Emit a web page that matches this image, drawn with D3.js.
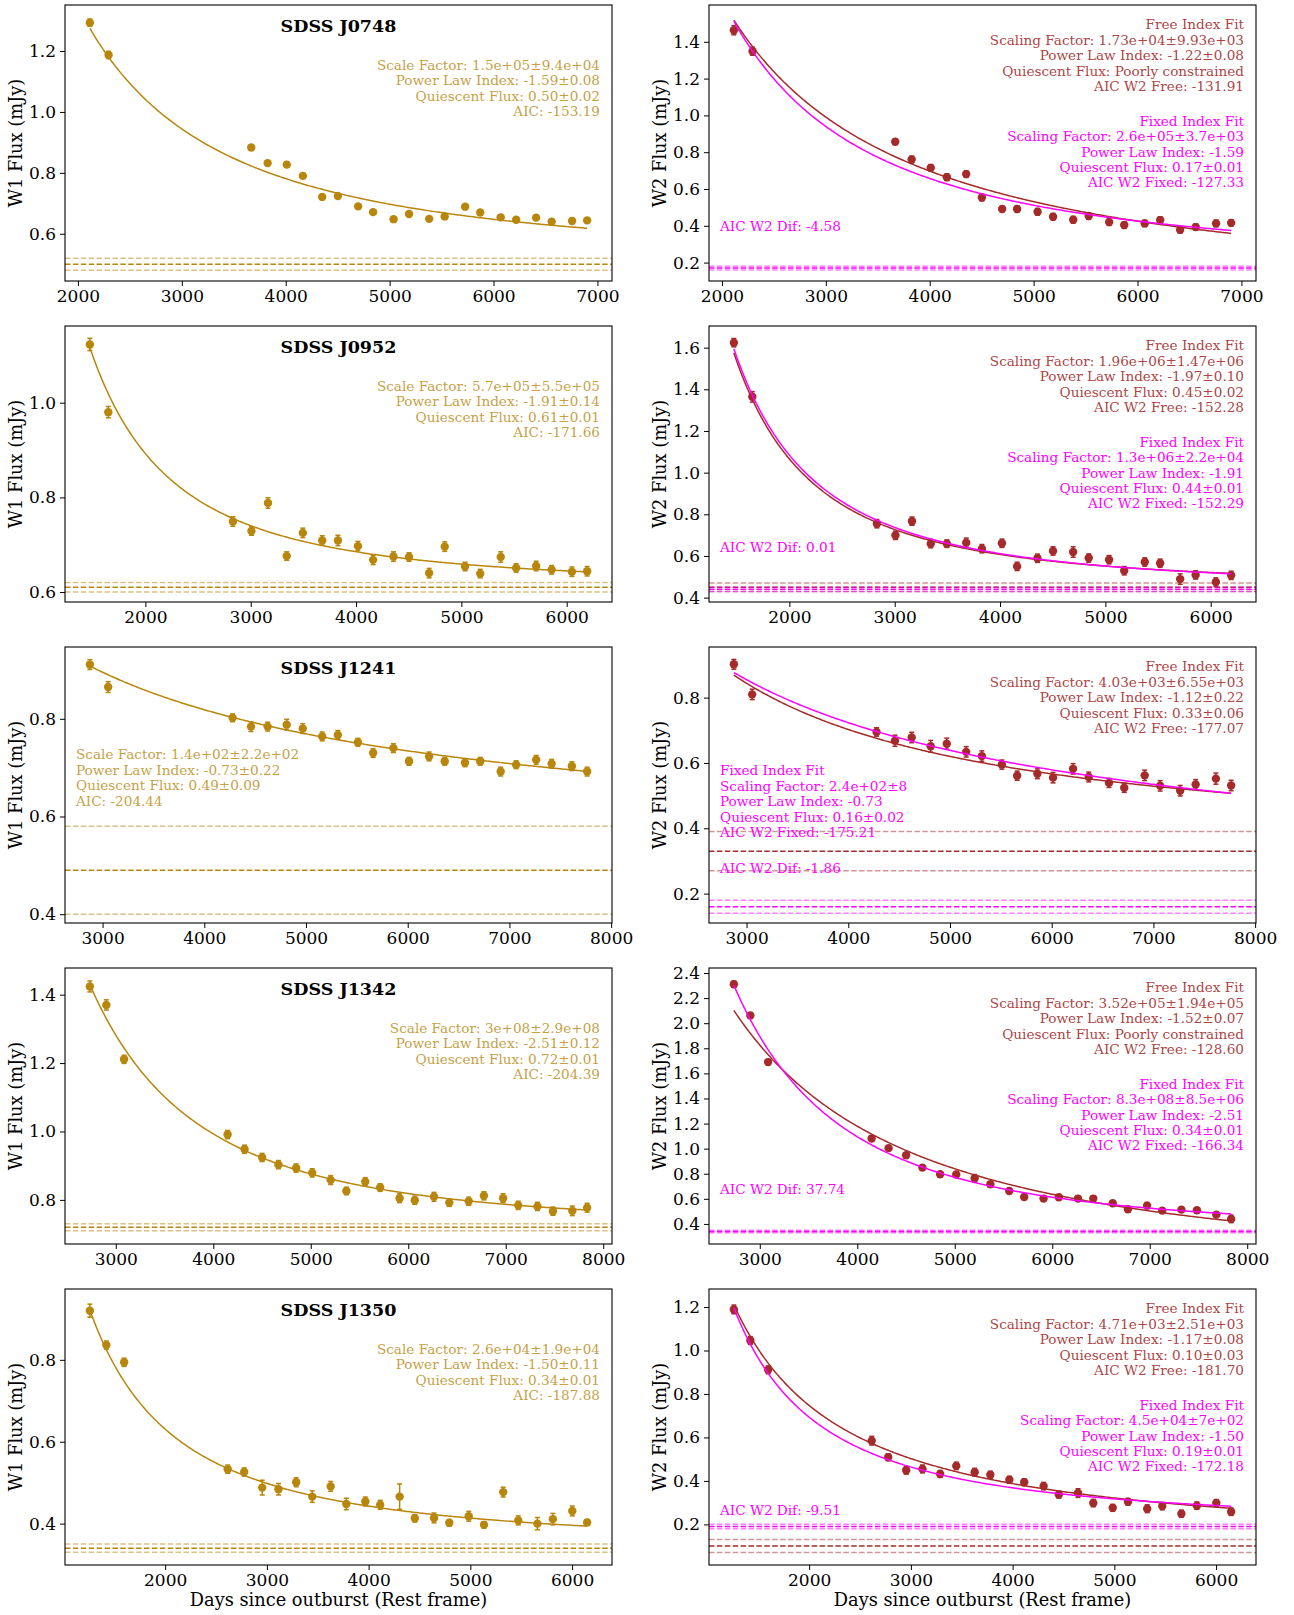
<!DOCTYPE html>
<html>
<head>
<meta charset="utf-8">
<script src="https://cdn.jsdelivr.net/npm/d3@7"></script>
<style>
  body { margin: 0; background: #fff; }
  svg { display: block; }
  text { font-family: "DejaVu Serif", serif; }
</style>
</head>
<body>
<svg id="fig" width="1294" height="1615"></svg>
<script>
// ---------------- data ----------------
const objects = ["SDSS J0748", "SDSS J0952", "SDSS J1241", "SDSS J1342", "SDSS J1350"];

// rest-frame days since outburst and W1 / W2 fluxes (mJy)
const daysJ0748 = [2115, 2295, 3668, 3826, 4010, 4165, 4351, 4502, 4697, 4841, 5038, 5187, 5381, 5530, 5727, 5872, 6069, 6218, 6410, 6560, 6756, 6901];
const w1J0748 = [1.293, 1.187, 0.883, 0.832, 0.827, 0.790, 0.721, 0.724, 0.690, 0.671, 0.648, 0.665, 0.649, 0.657, 0.689, 0.670, 0.654, 0.646, 0.653, 0.640, 0.642, 0.644];
const w1ErrJ0748 = [0.012, 0.012, 0.006, 0.008, 0.008, 0.008, 0.007, 0.007, 0.006, 0.007, 0.007, 0.007, 0.007, 0.008, 0.007, 0.007, 0.007, 0.007, 0.007, 0.007, 0.008, 0.007];
const w2J0748 = [1.463, 1.349, 0.857, 0.760, 0.715, 0.664, 0.681, 0.554, 0.491, 0.491, 0.476, 0.449, 0.433, 0.453, 0.420, 0.404, 0.413, 0.431, 0.378, 0.393, 0.413, 0.416];
const w2ErrJ0748 = [0.025, 0.022, 0.015, 0.018, 0.018, 0.018, 0.018, 0.018, 0.015, 0.018, 0.018, 0.018, 0.018, 0.018, 0.018, 0.018, 0.017, 0.018, 0.018, 0.017, 0.018, 0.017];

const daysJ0952 = [1473, 1648, 2831, 3007, 3164, 3342, 3495, 3679, 3828, 4018, 4162, 4355, 4503, 4694, 4842, 5035, 5179, 5374, 5520, 5710, 5857, 6049, 6194];
const w1J0952 = [1.123, 0.980, 0.749, 0.729, 0.788, 0.676, 0.725, 0.709, 0.709, 0.697, 0.668, 0.675, 0.674, 0.640, 0.696, 0.654, 0.639, 0.674, 0.651, 0.655, 0.647, 0.643, 0.644];
const w1ErrJ0952 = [0.013, 0.012, 0.010, 0.009, 0.011, 0.009, 0.010, 0.010, 0.011, 0.010, 0.010, 0.010, 0.009, 0.010, 0.010, 0.009, 0.009, 0.011, 0.009, 0.010, 0.009, 0.010, 0.010];
const w2J0952 = [1.624, 1.364, 0.755, 0.699, 0.767, 0.659, 0.659, 0.664, 0.635, 0.661, 0.550, 0.589, 0.624, 0.619, 0.590, 0.582, 0.529, 0.571, 0.565, 0.489, 0.509, 0.475, 0.507];
const w2ErrJ0952 = [0.020, 0.025, 0.020, 0.020, 0.020, 0.020, 0.018, 0.022, 0.020, 0.020, 0.020, 0.020, 0.020, 0.025, 0.020, 0.020, 0.020, 0.020, 0.020, 0.025, 0.020, 0.020, 0.020];

const daysJ1241 = [2875, 3055, 4278, 4459, 4623, 4810, 4968, 5159, 5313, 5510, 5660, 5859, 6013, 6210, 6364, 6563, 6713, 6914, 7066, 7263, 7415, 7614, 7764];
const w1J1241 = [0.911, 0.865, 0.802, 0.784, 0.784, 0.788, 0.780, 0.764, 0.767, 0.752, 0.730, 0.740, 0.713, 0.723, 0.713, 0.710, 0.713, 0.692, 0.706, 0.716, 0.708, 0.703, 0.692];
const w1ErrJ1241 = [0.010, 0.011, 0.008, 0.010, 0.009, 0.011, 0.010, 0.009, 0.009, 0.008, 0.009, 0.009, 0.008, 0.009, 0.008, 0.008, 0.008, 0.009, 0.008, 0.009, 0.009, 0.009, 0.009];
const w2J1241 = [0.902, 0.810, 0.695, 0.668, 0.678, 0.651, 0.659, 0.634, 0.621, 0.595, 0.561, 0.567, 0.555, 0.582, 0.557, 0.539, 0.524, 0.562, 0.530, 0.515, 0.534, 0.552, 0.531];
const w2ErrJ1241 = [0.015, 0.016, 0.013, 0.017, 0.016, 0.018, 0.017, 0.016, 0.016, 0.014, 0.014, 0.015, 0.016, 0.016, 0.015, 0.014, 0.014, 0.016, 0.016, 0.016, 0.015, 0.017, 0.016];

const daysJ1342 = [2734, 2903, 3085, 4147, 4321, 4501, 4668, 4850, 5015, 5204, 5365, 5559, 5712, 5911, 6067, 6264, 6421, 6620, 6776, 6973, 7128, 7325, 7484, 7683, 7835];
const w1J1342 = [1.424, 1.370, 1.211, 0.991, 0.948, 0.924, 0.903, 0.893, 0.879, 0.858, 0.826, 0.853, 0.836, 0.805, 0.799, 0.809, 0.792, 0.796, 0.812, 0.805, 0.784, 0.781, 0.767, 0.768, 0.777];
const w1ErrJ1342 = [0.016, 0.015, 0.012, 0.012, 0.012, 0.012, 0.012, 0.012, 0.012, 0.013, 0.011, 0.012, 0.011, 0.013, 0.012, 0.013, 0.011, 0.012, 0.012, 0.013, 0.012, 0.012, 0.012, 0.014, 0.013];
const w2J1342 = [2.310, 2.062, 1.690, 1.081, 1.004, 0.948, 0.849, 0.796, 0.794, 0.764, 0.717, 0.663, 0.615, 0.602, 0.613, 0.602, 0.602, 0.565, 0.517, 0.546, 0.506, 0.514, 0.509, 0.474, 0.440];
const w2ErrJ1342 = [0.025, 0.020, 0.020, 0.020, 0.020, 0.020, 0.020, 0.020, 0.020, 0.030, 0.020, 0.020, 0.020, 0.020, 0.020, 0.020, 0.020, 0.020, 0.020, 0.025, 0.020, 0.020, 0.020, 0.020, 0.030];

const daysJ1350 = [1260, 1422, 1597, 2615, 2777, 2954, 3114, 3288, 3446, 3627, 3781, 3968, 4114, 4305, 4454, 4643, 4793, 4984, 5134, 5323, 5471, 5659, 5811, 6002, 6148];
const w1J1350 = [0.920, 0.836, 0.794, 0.533, 0.526, 0.488, 0.484, 0.501, 0.466, 0.491, 0.448, 0.454, 0.446, 0.466, 0.413, 0.414, 0.402, 0.418, 0.397, 0.477, 0.408, 0.400, 0.411, 0.431, 0.403];
const w1ErrJ1350 = [0.016, 0.010, 0.010, 0.010, 0.010, 0.018, 0.014, 0.011, 0.014, 0.012, 0.014, 0.011, 0.011, 0.031, 0.009, 0.012, 0.008, 0.012, 0.008, 0.012, 0.011, 0.015, 0.014, 0.012, 0.007];
const w2J1350 = [1.189, 1.046, 0.911, 0.585, 0.509, 0.449, 0.455, 0.432, 0.469, 0.440, 0.428, 0.405, 0.394, 0.376, 0.337, 0.344, 0.298, 0.276, 0.304, 0.272, 0.284, 0.249, 0.286, 0.298, 0.258];
const w2ErrJ1350 = [0.020, 0.018, 0.018, 0.020, 0.016, 0.018, 0.018, 0.016, 0.017, 0.018, 0.016, 0.016, 0.016, 0.017, 0.016, 0.020, 0.017, 0.016, 0.015, 0.018, 0.017, 0.016, 0.017, 0.016, 0.017];

// W1 power-law fits: flux = scale * t^index + quiescent
const w1Scale = [1.5e5, 5.7e5, 1.4e2, 3e8, 2.6e4];
const w1ScaleErr = [9.4e4, 5.5e5, 2.2e2, 2.9e8, 1.9e4];
const w1Index = [-1.59, -1.91, -0.73, -2.51, -1.50];
const w1IndexErr = [0.08, 0.14, 0.22, 0.12, 0.11];
const w1Quiescent = [0.50, 0.61, 0.49, 0.72, 0.34];
const w1QuiescentErr = [0.02, 0.01, 0.09, 0.01, 0.01];
const w1Aic = [-153.19, -171.66, -204.44, -204.39, -187.88];

// W2 free-index fits (null error = quiescent flux poorly constrained)
const w2FreeScale = [1.73e4, 1.96e6, 4.03e3, 3.52e5, 4.71e3];
const w2FreeScaleErr = [9.93e3, 1.47e6, 6.55e3, 1.94e5, 2.51e3];
const w2FreeIndex = [-1.22, -1.97, -1.12, -1.52, -1.17];
const w2FreeIndexErr = [0.08, 0.10, 0.22, 0.07, 0.08];
const w2FreeQuiescent = [0.0, 0.45, 0.33, 0.0, 0.10];
const w2FreeQuiescentErr = [null, 0.02, 0.06, null, 0.03];
const w2FreeAic = [-131.91, -152.28, -177.07, -128.60, -181.70];

// W2 fits with the index fixed to the W1 value
const w2FixedScale = [2.6e5, 1.3e6, 2.4e2, 8.3e8, 4.5e4];
const w2FixedScaleErr = [3.7e3, 2.2e4, 8, 8.5e6, 7e2];
const w2FixedQuiescent = [0.17, 0.44, 0.16, 0.34, 0.19];
const w2FixedQuiescentErr = [0.01, 0.01, 0.02, 0.01, 0.01];
const w2FixedAic = [-127.33, -152.29, -175.21, -166.34, -172.18];
const w2AicDif = [-4.58, 0.01, -1.86, 37.74, -9.51];

// axis limits and tick values
const w1YLim = [[0.445, 1.351], [0.579, 1.162], [0.382, 0.947], [0.671, 1.478], [0.299, 0.973]];
const w2YLim = [[0.10, 1.60], [0.379, 1.704], [0.110, 0.955], [0.24, 2.44], [0.013, 1.283]];
const w1YTicks = [[0.6, 0.8, 1.0, 1.2], [0.6, 0.8, 1.0], [0.4, 0.6, 0.8], [0.8, 1.0, 1.2, 1.4], [0.4, 0.6, 0.8]];
const w2YTicks = [[0.2, 0.4, 0.6, 0.8, 1.0, 1.2, 1.4], [0.4, 0.6, 0.8, 1.0, 1.2, 1.4, 1.6], [0.2, 0.4, 0.6, 0.8],
                  [0.4, 0.6, 0.8, 1.0, 1.2, 1.4, 1.6, 1.8, 2.0, 2.2, 2.4], [0.2, 0.4, 0.6, 0.8, 1.0, 1.2]];
const xTicks = [[2000, 3000, 4000, 5000, 6000, 7000], [2000, 3000, 4000, 5000, 6000],
                [3000, 4000, 5000, 6000, 7000, 8000], [3000, 4000, 5000, 6000, 7000, 8000], [2000, 3000, 4000, 5000, 6000]];

const days = [daysJ0748, daysJ0952, daysJ1241, daysJ1342, daysJ1350];
const w1 = [w1J0748, w1J0952, w1J1241, w1J1342, w1J1350];
const w1Err = [w1ErrJ0748, w1ErrJ0952, w1ErrJ1241, w1ErrJ1342, w1ErrJ1350];
const w2 = [w2J0748, w2J0952, w2J1241, w2J1342, w2J1350];
const w2Err = [w2ErrJ0748, w2ErrJ0952, w2ErrJ1241, w2ErrJ1342, w2ErrJ1350];

// ---------------- styling / layout ----------------
const W1C = "#b8860b", FREEC = "#a52a2a", FIXC = "#ff00ff";
const colX = [65, 709], axW = 547, axH = 276, rowY0 = 5, rowStep = 321;
const fontTick = 17, fontAnn = 13.6, fontLabel = 17.8, lineH = 15.4, inset = 12;
// panels whose annotation block sits on the left
const leftAnnotated = { w1: [2], w2Fixed: [2] };

// python-like number formatting
function fmtG(x, p) {
  if (x === 0) return "0";
  const r = Number(x.toPrecision(p));
  const e = Math.floor(Math.log10(Math.abs(r)));
  if (e < -4 || e >= p) {
    let [m, ex] = r.toExponential(p - 1).split("e");
    if (m.includes(".")) m = m.replace(/0+$/, "").replace(/\.$/, "");
    return m + "e" + ex[0] + ex.slice(1).padStart(2, "0");
  }
  let s = r.toFixed(Math.max(0, p - 1 - e));
  if (s.includes(".")) s = s.replace(/0+$/, "").replace(/\.$/, "");
  return s;
}
function fmtE(x, p) {
  const [m, ex] = x.toExponential(p).split("e");
  return m + "e" + ex[0] + ex.slice(1).padStart(2, "0");
}
const f2 = v => v.toFixed(2);

const svg = d3.select("#fig");
const defs = svg.append("defs");

function powerLaw(scale, index, q) { return t => scale * Math.pow(t, index) + q; }

function drawPanel(i, col) {
  const isW1 = col === 0;
  const gx = colX[col], gy = rowY0 + i * rowStep;
  const g = svg.append("g").attr("transform", `translate(${gx},${gy})`);
  const t = days[i];
  const xPad = (d3.max(t) - d3.min(t)) * 0.05;
  const x = d3.scaleLinear().domain([d3.min(t) - xPad, d3.max(t) + xPad]).range([0, axW]);
  const y = d3.scaleLinear().domain(isW1 ? w1YLim[i] : w2YLim[i]).range([axH, 0]);

  const clipId = `clip-${i}-${col}`;
  defs.append("clipPath").attr("id", clipId).append("rect").attr("width", axW).attr("height", axH);
  const plot = g.append("g").attr("clip-path", `url(#${clipId})`);

  // data points with error bars
  const vals = isW1 ? w1[i] : w2[i];
  const errs = isW1 ? w1Err[i] : w2Err[i];
  const pc = isW1 ? W1C : FREEC;
  const pts = t.map((d, k) => ({ t: d, v: vals[k], e: errs[k] }));
  const eb = plot.append("g").attr("stroke", pc).attr("stroke-width", 1.5);
  pts.forEach(p => {
    const y0 = y(p.v - p.e), y1 = y(p.v + p.e), cx = x(p.t);
    eb.append("line").attr("x1", cx).attr("x2", cx).attr("y1", y0).attr("y2", y1);
    eb.append("line").attr("x1", cx - 2.5).attr("x2", cx + 2.5).attr("y1", y0).attr("y2", y0);
    eb.append("line").attr("x1", cx - 2.5).attr("x2", cx + 2.5).attr("y1", y1).attr("y2", y1);
  });
  plot.append("g").selectAll("circle").data(pts).join("circle")
    .attr("cx", p => x(p.t)).attr("cy", p => y(p.v)).attr("r", 4.2).attr("fill", pc);

  // fitted curves
  const ts = d3.range(301).map(k => d3.min(t) + (d3.max(t) - d3.min(t)) * k / 300);
  const line = f => d3.line().x(d => x(d)).y(d => y(f(d)))(ts);
  const curves = isW1
    ? [[powerLaw(w1Scale[i], w1Index[i], w1Quiescent[i]), W1C]]
    : [[powerLaw(w2FreeScale[i], w2FreeIndex[i], w2FreeQuiescent[i]), FREEC],
       [powerLaw(w2FixedScale[i], w1Index[i], w2FixedQuiescent[i]), FIXC]];
  curves.forEach(([f, c]) => plot.append("path").attr("d", line(f))
    .attr("fill", "none").attr("stroke", c).attr("stroke-width", 1.5));

  // quiescent flux levels (dashed), with +/- error levels
  const hline = (v, c, op) => plot.append("line")
    .attr("x1", 0).attr("x2", axW).attr("y1", y(v)).attr("y2", y(v))
    .attr("stroke", c).attr("stroke-opacity", op).attr("stroke-width", 1.5)
    .attr("stroke-dasharray", "5.5,2.4");
  const levels = isW1
    ? [[w1Quiescent[i], w1QuiescentErr[i], W1C]]
    : [[w2FreeQuiescent[i], w2FreeQuiescentErr[i], FREEC], [w2FixedQuiescent[i], w2FixedQuiescentErr[i], FIXC]];
  levels.forEach(([q, e, c]) => {
    if (e === null) return;
    hline(q + e, c, 0.5); hline(q - e, c, 0.5); hline(q, c, 1);
  });

  // axes
  const xAxis = g.append("g").attr("transform", `translate(0,${axH})`)
    .call(d3.axisBottom(x).tickValues(xTicks[i]).tickFormat(d3.format("d")).tickSize(5).tickPadding(4));
  const yAxis = g.append("g")
    .call(d3.axisLeft(y).tickValues(isW1 ? w1YTicks[i] : w2YTicks[i]).tickFormat(d3.format(".1f")).tickSize(5).tickPadding(4));
  [xAxis, yAxis].forEach(a => {
    a.select(".domain").remove();
    a.selectAll("text").attr("font-size", fontTick).attr("font-family", "DejaVu Serif").attr("fill", "#000");
    a.selectAll("line").attr("stroke", "#000").attr("stroke-width", 1);
  });
  g.append("rect").attr("width", axW).attr("height", axH)
    .attr("fill", "none").attr("stroke", "#000").attr("stroke-width", 1.1);

  // axis labels
  g.append("text").attr("transform", `translate(-43,${axH / 2}) rotate(-90)`)
    .attr("text-anchor", "middle").attr("font-size", fontLabel)
    .text(isW1 ? "W1 Flux (mJy)" : "W2 Flux (mJy)");
  if (i === objects.length - 1) {
    g.append("text").attr("x", axW / 2).attr("y", axH + 41).attr("text-anchor", "middle")
      .attr("font-size", fontLabel).text("Days since outburst (Rest frame)");
  }

  // annotation blocks
  const block = (lines, color, op, left, y0) => {
    const tx = g.append("text").attr("font-size", fontAnn).attr("fill", color).attr("fill-opacity", op)
      .attr("text-anchor", left ? "start" : "end");
    lines.forEach((s, k) => tx.append("tspan").attr("x", left ? 11 : axW - inset).attr("y", y0 + k * lineH).text(s));
  };

  if (isW1) {
    g.append("text").attr("x", axW / 2).attr("y", 27).attr("text-anchor", "middle")
      .attr("font-size", 17.5).attr("font-weight", "bold").text(objects[i]);
    const left = leftAnnotated.w1.includes(i);
    block([
      `Scale Factor: ${fmtG(w1Scale[i], 2)}±${fmtG(w1ScaleErr[i], 2)}`,
      `Power Law Index: ${f2(w1Index[i])}±${f2(w1IndexErr[i])}`,
      `Quiescent Flux: ${f2(w1Quiescent[i])}±${f2(w1QuiescentErr[i])}`,
      `AIC: ${f2(w1Aic[i])}`
    ], W1C, 0.8, left, left ? 112.3 : 65);
  } else {
    block([
      "Free Index Fit",
      `Scaling Factor: ${fmtE(w2FreeScale[i], 2)}±${fmtE(w2FreeScaleErr[i], 2)}`,
      `Power Law Index: ${f2(w2FreeIndex[i])}±${f2(w2FreeIndexErr[i])}`,
      `Quiescent Flux: ${w2FreeQuiescentErr[i] === null ? "Poorly constrained" : f2(w2FreeQuiescent[i]) + "±" + f2(w2FreeQuiescentErr[i])}`,
      `AIC W2 Free: ${f2(w2FreeAic[i])}`
    ], FREEC, 0.9, false, 24.3);
    const left = leftAnnotated.w2Fixed.includes(i);
    block([
      "Fixed Index Fit",
      `Scaling Factor: ${fmtG(w2FixedScale[i], 2)}±${fmtG(w2FixedScaleErr[i], 2)}`,
      `Power Law Index: ${f2(w1Index[i])}`,
      `Quiescent Flux: ${f2(w2FixedQuiescent[i])}±${f2(w2FixedQuiescentErr[i])}`,
      `AIC W2 Fixed: ${f2(w2FixedAic[i])}`
    ], FIXC, 1, left, left ? 128.3 : 120.7);
    block([`AIC W2 Dif: ${f2(w2AicDif[i])}`], FIXC, 1, true, 225.5);
  }
}

objects.forEach((_, i) => { drawPanel(i, 0); drawPanel(i, 1); });
</script>
</body>
</html>
